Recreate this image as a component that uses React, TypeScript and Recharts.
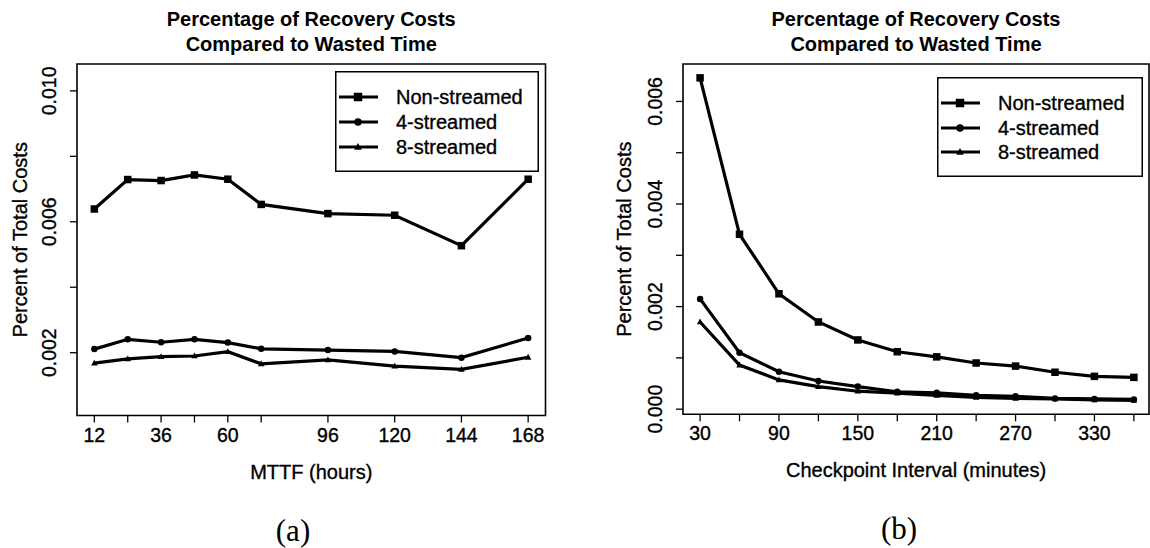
import React from 'react';
import { LineChart, Line, XAxis, YAxis, ReferenceArea, Legend } from 'recharts';

// ---- Panel (a): cost share vs. MTTF ----
const mttfHours = [12, 24, 36, 48, 60, 72, 96, 120, 144, 168];
const mttfNonStreamed = [0.00639, 0.00729, 0.00726, 0.00743, 0.0073, 0.00653, 0.00625, 0.0062, 0.00527, 0.0073];
const mttfFourStreamed = [0.00211, 0.00241, 0.00232, 0.00241, 0.00231, 0.00212, 0.00208, 0.00204, 0.00185, 0.00245];
const mttfEightStreamed = [0.00168, 0.00181, 0.00188, 0.0019, 0.00203, 0.00166, 0.00178, 0.00159, 0.00149, 0.00186];
const mttfXLabels = [12, 36, 60, 96, 120, 144, 168];
const mttfYTicks = [0.002, 0.004, 0.006, 0.008, 0.01];
const mttfYLabels = [0.002, 0.006, 0.01];

// ---- Panel (b): cost share vs. checkpoint interval ----
const intervalMinutes = [30, 60, 90, 120, 150, 180, 210, 240, 270, 300, 330, 360];
const intervalNonStreamed = [0.00646, 0.00341, 0.00225, 0.0017, 0.00135, 0.00112, 0.00102, 0.0009, 0.00084, 0.00072, 0.00064, 0.00062];
const intervalFourStreamed = [0.00215, 0.0011, 0.00073, 0.00055, 0.00044, 0.00034, 0.00032, 0.00027, 0.00025, 0.00021, 0.0002, 0.00019];
const intervalEightStreamed = [0.0017, 0.00086, 0.00057, 0.00044, 0.00035, 0.00031, 0.00027, 0.00023, 0.00021, 0.0002, 0.00018, 0.00017];
const intervalXLabels = [30, 90, 150, 210, 270, 330];
const intervalYTicks = [0, 0.001, 0.002, 0.003, 0.004, 0.005, 0.006];
const intervalYLabels = [0, 0.002, 0.004, 0.006];

const seriesNames = ['Non-streamed', '4-streamed', '8-streamed'];
const titleLines = ['Percentage of Recovery Costs', 'Compared to Wasted Time'];
const yTitle = 'Percent of Total Costs';
const xTitles = ['MTTF (hours)', 'Checkpoint Interval (minutes)'];
const captions = ['(a)', '(b)'];

const FONT = '"Liberation Sans", Arial, Helvetica, sans-serif';
const INK = '#000';
const SHAPES = ['square', 'circle', 'triangle'];
const SERIES_KEYS = ['s0', 's1', 's2'];
// a hairline outline gives the glyphs the slightly heavy, printed look
const TEXT_WEIGHT = { stroke: INK, strokeWidth: 0.35 };

function buildRows(xs: number[], a: number[], b: number[], c: number[]) {
  return xs.map((x, i) => ({ x, s0: a[i], s1: b[i], s2: c[i] }));
}

function Marker({ shape, cx, cy, size }: { shape: string; cx: number; cy: number; size: number }) {
  if (cx == null || cy == null) return null;
  if (shape === 'square') {
    return <rect x={cx - size / 2} y={cy - size / 2} width={size} height={size} fill={INK} />;
  }
  if (shape === 'circle') {
    return <circle cx={cx} cy={cy} r={size / 2} fill={INK} />;
  }
  const h = size * 0.9;
  return (
    <polygon
      points={`${cx},${cy - h * 0.6} ${cx - size / 2},${cy + h * 0.4} ${cx + size / 2},${cy + h * 0.4}`}
      fill={INK}
    />
  );
}

type PanelConfig = {
  left: number;
  rows: any[];
  plotLeft: number;
  plotRight: number;
  plotTop: number;
  plotBottom: number;
  xDomain: [number, number];
  yDomain: [number, number];
  xTicks: number[];
  xLabels: number[];
  yTicks: number[];
  yLabels: number[];
  legendBox: { left: number; top: number; width: number; height: number; rows: number[] };
  xTitle: string;
  yTitleGap: number;
  caption: string;
  captionX: number;
  captionY: number;
};

const W = 575;
const H = 548;
const Y_AXIS_W = 60;
const X_AXIS_H = 40;

const panels: PanelConfig[] = [
  {
    left: 0,
    rows: buildRows(mttfHours, mttfNonStreamed, mttfFourStreamed, mttfEightStreamed),
    plotLeft: 77,
    plotRight: 545.5,
    plotTop: 64,
    plotBottom: 415.5,
    xDomain: [5.76, 174.24],
    yDomain: [0.000082, 0.01082],
    xTicks: mttfHours,
    xLabels: mttfXLabels,
    yTicks: mttfYTicks,
    yLabels: mttfYLabels,
    legendBox: { left: 335, top: 71, width: 204, height: 101, rows: [26, 51, 76] },
    xTitle: xTitles[0],
    yTitleGap: 50,
    caption: captions[0],
    captionX: 293,
    captionY: 531,
  },
  {
    left: 575,
    rows: buildRows(intervalMinutes, intervalNonStreamed, intervalFourStreamed, intervalEightStreamed),
    plotLeft: 108,
    plotRight: 574,
    plotTop: 64,
    plotBottom: 414.3,
    xDomain: [17, 371.5],
    yDomain: [-0.0001, 0.00673],
    xTicks: intervalMinutes,
    xLabels: intervalXLabels,
    yTicks: intervalYTicks,
    yLabels: intervalYLabels,
    legendBox: { left: 362, top: 77, width: 206, height: 100, rows: [26, 51, 75] },
    xTitle: xTitles[1],
    yTitleGap: 52,
    caption: captions[1],
    captionX: 324,
    captionY: 529,
  },
];

function Panel({ cfg }: { cfg: PanelConfig }) {
  const margin = {
    top: cfg.plotTop,
    right: W - cfg.plotRight,
    bottom: H - cfg.plotBottom - X_AXIS_H,
    left: cfg.plotLeft - Y_AXIS_W,
  };
  const plotCenter = (cfg.plotLeft + cfg.plotRight) / 2;
  const lb = cfg.legendBox;

  const xTick = (p: any) => {
    const v = p.payload.value;
    if (!cfg.xLabels.includes(v)) return <g />;
    return (
      <text x={p.x} y={p.y + 17} textAnchor="middle" fontFamily={FONT} fontSize={19.5} fill={INK} {...TEXT_WEIGHT}>
        {v}
      </text>
    );
  };
  const yTick = (p: any) => {
    const v = p.payload.value;
    if (!cfg.yLabels.some((l) => Math.abs(l - v) < 1e-9)) return <g />;
    const tx = p.x - 11.5;
    return (
      <text
        x={tx}
        y={p.y}
        transform={`rotate(-90, ${tx}, ${p.y})`}
        textAnchor="middle"
        fontFamily={FONT}
        fontSize={19.5}
        fill={INK}
        {...TEXT_WEIGHT}
      >
        {v.toFixed(3)}
      </text>
    );
  };

  const legendContent = (props: any) => {
    const items = [...(props.payload || [])].sort(
      (a: any, b: any) => SERIES_KEYS.indexOf(a.dataKey) - SERIES_KEYS.indexOf(b.dataKey)
    );
    return (
      <svg width={lb.width} height={lb.height} style={{ display: 'block' }}>
        <rect x={0.75} y={0.75} width={lb.width - 1.5} height={lb.height - 1.5} fill="#fff" stroke={INK} strokeWidth={1.5} />
        {items.map((it: any, i: number) => {
          const idx = SERIES_KEYS.indexOf(it.dataKey);
          const cy = lb.rows[i];
          return (
            <g key={it.value}>
              <line x1={4} x2={43} y1={cy} y2={cy} stroke={INK} strokeWidth={2.8} />
              <Marker shape={SHAPES[idx]} cx={23} cy={cy} size={idx === 0 ? 8.5 : 7.5} />
              <text x={61} y={cy} dominantBaseline="central" fontFamily={FONT} fontSize={20} fill={INK} {...TEXT_WEIGHT}>
                {it.value}
              </text>
            </g>
          );
        })}
      </svg>
    );
  };

  return (
    <div style={{ position: 'absolute', left: cfg.left, top: 0, width: W, height: H }}>
      <div
        style={{
          position: 'absolute',
          left: plotCenter - 250,
          width: 500,
          top: 7,
          textAlign: 'center',
          fontFamily: FONT,
          fontWeight: 'bold',
          fontSize: 20,
          lineHeight: '25px',
          color: INK,
          zIndex: 2,
        }}
      >
        {titleLines.map((t) => (
          <div key={t}>{t}</div>
        ))}
      </div>
      <LineChart width={W} height={H} data={cfg.rows} margin={margin}>
        <XAxis
          dataKey="x"
          type="number"
          domain={cfg.xDomain}
          allowDataOverflow
          ticks={cfg.xTicks}
          interval={0}
          height={X_AXIS_H}
          axisLine={false}
          tickLine={{ stroke: INK, strokeWidth: 1.3 }}
          tickSize={7}
          tickMargin={2}
          tick={xTick}
          label={{
            content: (lp: any) => {
              const vb = lp.viewBox || {};
              return (
                <text
                  x={vb.x + vb.width / 2}
                  y={vb.y + 63}
                  textAnchor="middle"
                  fontFamily={FONT}
                  fontSize={20}
                  fill={INK}
                  {...TEXT_WEIGHT}
                >
                  {cfg.xTitle}
                </text>
              );
            },
          }}
        />
        <YAxis
          type="number"
          domain={cfg.yDomain}
          allowDataOverflow
          ticks={cfg.yTicks}
          interval={0}
          width={Y_AXIS_W}
          axisLine={false}
          tickLine={{ stroke: INK, strokeWidth: 1.3 }}
          tickSize={7}
          tickMargin={2}
          tick={yTick}
          label={{
            content: (lp: any) => {
              const vb = lp.viewBox || {};
              const tx = vb.x + vb.width - cfg.yTitleGap;
              const ty = vb.y + vb.height / 2;
              return (
                <text
                  x={tx}
                  y={ty}
                  transform={`rotate(-90, ${tx}, ${ty})`}
                  textAnchor="middle"
                  fontFamily={FONT}
                  fontSize={20}
                  fill={INK}
                  {...TEXT_WEIGHT}
                >
                  {yTitle}
                </text>
              );
            },
          }}
        />
        <ReferenceArea
          x1={cfg.xDomain[0]}
          x2={cfg.xDomain[1]}
          y1={cfg.yDomain[0]}
          y2={cfg.yDomain[1]}
          fill="none"
          stroke={INK}
          strokeWidth={1.6}
          ifOverflow="visible"
        />
        {seriesNames.map((name, i) => (
          <Line
            key={name}
            type="linear"
            dataKey={SERIES_KEYS[i]}
            name={name}
            stroke={INK}
            strokeWidth={3.2}
            isAnimationActive={false}
            dot={(p: any) => (
              <Marker key={`${name}-${p.index}`} shape={SHAPES[i]} cx={p.cx} cy={p.cy} size={i === 0 ? 7.5 : 6.5} />
            )}
            activeDot={false}
          />
        ))}
        <Legend
          layout="vertical"
          align="center"
          verticalAlign="middle"
          content={legendContent}
          wrapperStyle={{ left: lb.left, top: lb.top, width: lb.width, height: lb.height }}
        />
      </LineChart>
      <div
        style={{
          position: 'absolute',
          left: cfg.captionX - 50,
          width: 100,
          top: cfg.captionY - 15,
          height: 30,
          textAlign: 'center',
          fontFamily: '"Liberation Serif", "DejaVu Serif", serif',
          fontSize: 31,
          lineHeight: '30px',
          color: INK,
        }}
      >
        {cfg.caption}
      </div>
    </div>
  );
}

export default function App() {
  return (
    <div
      style={{
        position: 'absolute',
        left: 0,
        top: 0,
        width: 1150,
        height: 548,
        background: '#fff',
        overflow: 'hidden',
        fontFamily: FONT,
      }}
    >
      {panels.map((cfg) => (
        <Panel key={cfg.caption} cfg={cfg} />
      ))}
    </div>
  );
}
